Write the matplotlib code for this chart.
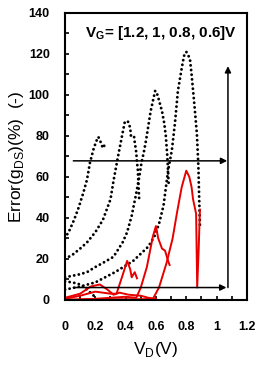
import matplotlib
matplotlib.use("Agg")
import matplotlib.pyplot as plt
from matplotlib.ticker import MultipleLocator, FuncFormatter

plt.rcParams['font.family'] = ['Liberation Sans', 'DejaVu Sans']
plt.rcParams['font.weight'] = 'bold'

# black dotted curves (error of the model, one per VG)
a_x = [0, .03, .06, .09, .12, .145, .165, .19, .21, .22, .235, .25, .265, .28]
a_y = [30, 34, 39, 45, 52, 58.6, 67, 74, 78, 79.5, 77, 74, 76, 76.5]

b_x = [0, .05, .1, .145, .2, .25, .3, .32, .35, .375, .395, .415, .43, .435, .455, .46, .47, .475, .48, .485, .49]
b_y = [20, 22, 25, 28, 33, 39, 49, 58, 70, 79.5, 87, 87, 84, 80, 80, 77, 72, 67, 64, 56, 48]

c_x = [0, .1, .145, .2, .25, .32, .38, .41, .44, .47, .49, .505, .52, .535, .55, .565, .58, .595,
       .61, .625, .64, .655, .665, .675, .685]
c_y = [11, 12.5, 13.5, 16, 18, 21, 28, 33, 41, 52, 60, 67, 72, 78, 85, 92, 97, 102,
       100, 96, 92, 86, 80, 70, 55]

d_x = [0, .1, .2, .33, .45, .55, .59, .62, .65, .68, .705, .725, .745, .77, .785, .80, .815,
       .825, .835, .855, .87, .88, .885, .89]
d_y = [5, 6.5, 8.5, 13.5, 19, 26, 31, 37, 46, 63, 73, 86, 102, 113, 119, 121, 119,
       117, 110, 94, 81, 65, 50, 36]

e_x = [0, .05, .1, .13, .16, .19]
e_y = [9, 8.5, 7.5, 6, 4, 2]

# red solid curves
r1_x = [0, .05, .1, .17, .23, .28, .32, .36, .42, .5, .55, .6]
r1_y = [1, 2, 3, 6.5, 7.5, 5, 2.5, 3.5, 2.5, 2, 1, 0.5]

r2_x = [0, .1, .2, .3, .34, .38, .41, .43, .44, .46, .475]
r2_y = [0.5, 2, 4, 3, 3, 12, 19, 15, 11, 13.5, 10.5]

r3_x = [0, .2, .4, .47, .5, .54, .58, .6, .615, .64, .66, .68, .69]
r3_y = [0, 0.5, 1.5, 1, 6, 16, 31, 36, 30, 25, 24, 19, 17]

r4_x = [0, .3, .5, .58, .62, .67, .71, .74, .77, .8, .82, .835, .845, .865, .872, .882, .89]
r4_y = [0, 0.3, 0.3, 0.5, 6, 18, 30, 43, 55, 63, 60, 55, 49, 42, 6, 25, 44]

fig = plt.figure(figsize=(2.61, 3.67), dpi=100)
ax = fig.add_axes([0.249, 0.183, 0.697, 0.782])

dots = (0, (0.01, 1.6))
for xs, ys in [(a_x, a_y), (b_x, b_y), (c_x, c_y), (d_x, d_y), (e_x, e_y)]:
    ax.plot(xs, ys, color='black', lw=2.1, linestyle=dots, dash_capstyle='round')

for xs, ys in [(r1_x, r1_y), (r2_x, r2_y), (r3_x, r3_y), (r4_x, r4_y)]:
    ax.plot(xs, ys, color='#e60000', lw=1.4)

arrow = dict(arrowstyle='-|>', color='black', lw=1.1, mutation_scale=9, shrinkA=0, shrinkB=0)
ax.annotate('', xy=(1.07, 67.8), xytext=(0.055, 67.8), arrowprops=arrow)
ax.annotate('', xy=(1.065, 6), xytext=(0.055, 6), arrowprops=arrow)
ax.annotate('', xy=(1.075, 114), xytext=(1.075, 6), arrowprops=arrow)

ax.text(0.63, 130, r'V$_\mathregular{G}$= [1.2, 1, 0.8, 0.6]V', ha='center', va='center',
        fontsize=11, fontweight='bold')

ax.set_xlim(0, 1.2)
ax.set_ylim(0, 140)
ax.xaxis.set_major_locator(MultipleLocator(0.2))
ax.xaxis.set_minor_locator(MultipleLocator(0.1))
ax.yaxis.set_major_locator(MultipleLocator(20))
ax.yaxis.set_minor_locator(MultipleLocator(10))
ax.xaxis.set_major_formatter(FuncFormatter(lambda v, p: '%g' % round(v, 2)))
ax.tick_params(which='both', direction='in', length=3, width=1.2, labelsize=9)
ax.tick_params(axis='x', which='major', pad=15)
ax.tick_params(axis='y', which='major', pad=11)
for s in ax.spines.values():
    s.set_linewidth(1.5)

ax.set_xlabel(r'V$_\mathregular{D}$(V)', fontsize=12.5, fontweight='normal', labelpad=5)
ax.set_ylabel(r'Error(g$_\mathregular{DS}$)(%)  (-)', fontsize=12.5, fontweight='normal',
              labelpad=2)

fig.savefig('out.png', dpi=100)
